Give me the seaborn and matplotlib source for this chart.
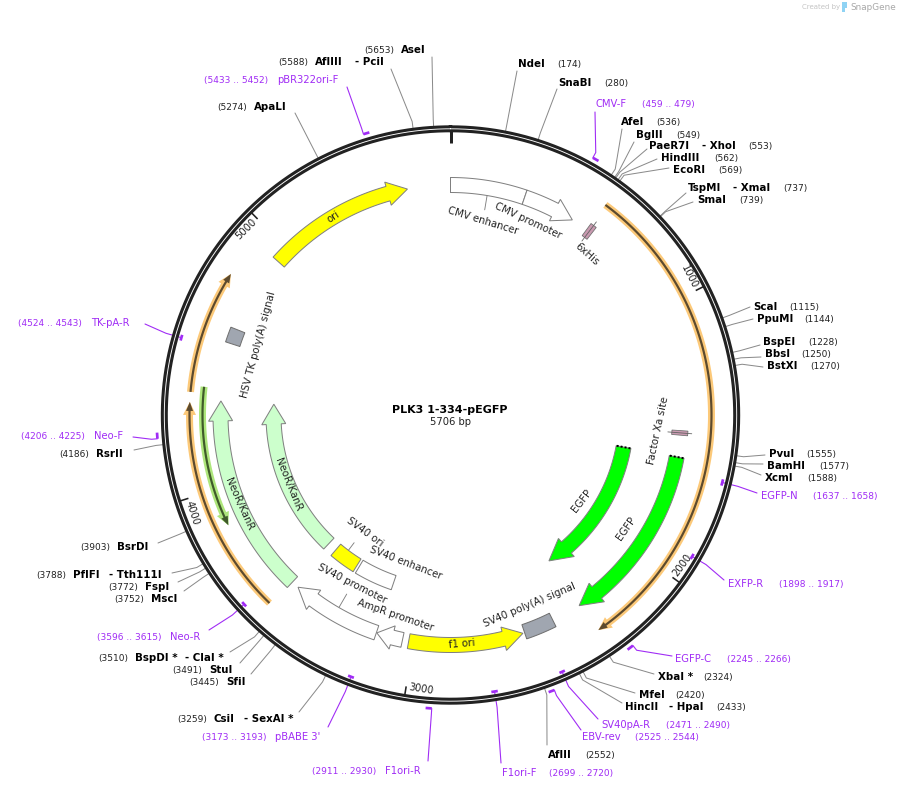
import numpy as np
import pandas as pd
import seaborn as sns
import matplotlib.pyplot as plt

total_bp = 5706
plasmid_name = "PLK3 1-334-pEGFP"

# restriction sites
enz_names = ["NdeI", "SnaBI", "AfeI", "BglII", "PaeR7I", "HindIII", "EcoRI", "TspMI", "SmaI", "ScaI",
             "PpuMI", "BspEI", "BbsI", "BstXI", "PvuI", "BamHI", "XcmI", "XbaI *", "MfeI", "HincII",
             "AflII", "CsiI", "SfiI", "StuI", "BspDI *", "MscI", "FspI", "PflFI", "BsrDI", "RsrII",
             "ApaLI", "AflIII", "AseI"]
enz_second = ["", "", "", "", "- XhoI", "", "", "- XmaI", "", "",
              "", "", "", "", "", "", "", "", "", "- HpaI",
              "", "- SexAI *", "", "", "- ClaI *", "", "", "- Tth111I", "", "",
              "", "- PciI", ""]
enz_bp = [174, 280, 536, 549, 553, 562, 569, 737, 739, 1115,
          1144, 1228, 1250, 1270, 1555, 1577, 1588, 2324, 2420, 2433,
          2552, 3259, 3445, 3491, 3510, 3752, 3772, 3788, 3903, 4186,
          5274, 5588, 5653]

# primers
primer_names = ["CMV-F", "EGFP-N", "EXFP-R", "EGFP-C", "SV40pA-R", "EBV-rev", "F1ori-F", "F1ori-R",
                "pBABE 3'", "Neo-R", "Neo-F", "TK-pA-R", "pBR322ori-F"]
primer_start = [459, 1637, 1898, 2245, 2471, 2525, 2699, 2911, 3173, 3596, 4206, 4524, 5433]
primer_end = [479, 1658, 1917, 2266, 2490, 2544, 2720, 2930, 3193, 3615, 4225, 4543, 5452]

# features
feat_names = ["CMV enhancer", "CMV promoter", "EGFP", "EGFP", "f1 ori", "AmpR promoter", "SV40 promoter",
              "SV40 enhancer", "SV40 ori", "NeoR/KanR", "NeoR/KanR", "ori"]
feat_start = [0, 298, 1593, 1593, 3019, 3044, 3151, 3150, 3358, 3541, 3541, 4940]
feat_end = [298, 507, 2314, 2314, 2562, 3149, 3511, 3345, 3493, 4335, 4335, 5535]
box_names = ["SV40 poly(A) signal", "HSV TK poly(A) signal"]
box_start = [2433, 4565]
box_end = [2555, 4625]
small_names = ["6xHis", "Factor Xa site"]
small_start = [575, 1488]
small_end = [600, 1506]
orf_start = [577, 3549, 4360, 4383]
orf_end = [2306, 4325, 4798, 3861]
tick_bp = [1000, 2000, 3000, 4000, 5000]

# layout, pixels
cx, cy = 450.5, 415.0
enz_x = [518, 558, 621, 636, 649, 661, 673, 688, 697, 753,
         757, 763, 765, 767, 769, 767, 765, 658, 639, 625,
         548, 214, 226, 209, 135, 151, 145, 73, 117, 96,
         254, 315, 401]
enz_y = [64, 83, 122, 135, 146, 158, 170, 188, 200, 307,
         319, 342, 354, 366, 454, 466, 478, 677, 695, 707,
         755, 719, 682, 670, 658, 599, 587, 575, 547, 454,
         107, 62, 50]
enz_num_x = [557, 604, 656, 676, 748, 714, 718, 783, 739, 789,
             804, 808, 801, 810, 806, 819, 807, 703, 675, 716,
             585, 177, 189, 172, 98, 114, 108, 36, 80, 59,
             217, 278, 364]
enz_second_x = [0, 0, 0, 0, 702, 0, 0, 733, 0, 0,
                0, 0, 0, 0, 0, 0, 0, 0, 0, 669,
                0, 244, 0, 0, 185, 0, 0, 109, 0, 0,
                0, 355, 0]
enz_ax = [517, 557, 622, 634, 647, 657, 669, 686, 693, 750,
          753, 760, 761, 763, 765, 763, 761, 654, 635, 622,
          547, 299, 251, 240, 230, 184, 178, 172, 158, 134,
          295, 391, 432]
enz_ay = [71, 89, 129, 142, 149, 159, 168, 193, 202, 307,
          319, 345, 357, 367, 455, 464, 475, 674, 693, 703,
          745, 712, 674, 663, 652, 591, 582, 573, 543, 450,
          113, 69, 57]

primer_x = [595, 761, 728, 675, 601, 582, 502, 385, 275, 170, 94, 91, 277]
primer_y = [104, 496, 584, 659, 725, 737, 773, 771, 737, 637, 436, 323, 80]
primer_num_x = [642, 813, 779, 727, 666, 635, 549, 312, 202, 97, 21, 18, 204]
primer_ax = [595, 757, 724, 672, 598, 581, 501, 428, 328, 209, 133, 145, 347]
primer_ay = [112, 493, 580, 656, 719, 730, 763, 761, 727, 630, 437, 324, 87]
primer_outside = [True, False, False, True, False, True, False, True, False, False, True, False, True]

feat_r = [230, 230, 230, 176, 230, 230, 230, 177, 177, 230, 177, 230]
feat_fill = ["white", "white", "#00ff00", "#00ff00", "#ffff00", "white", "white",
             "white", "#ffff00", "#ccffcc", "#ccffcc", "#ffff00"]
feat_head = [0, 20, 22, 22, 20, 16, 20, 0, 0, 20, 20, 20]
feat_label_x = [483, 528, 626, 582, 462, 395, 352, 406, 365, 239, 288, 333]
feat_label_y = [221, 221, 529, 501, 644, 615, 584, 563, 532, 504, 485, 217]
feat_label_rot = [-17, -25, 55, 52, 5, -19, -27, -21, -36, -66, -68, 33]
box_label_x = [530, 258]
box_label_y = [605, 345]
box_label_rot = [23, 75]
small_label_x = [587, 658]
small_label_y = [254, 431]
small_label_rot = [-42, 78]
small_w = [15, 16]
orf_r = [261, 261, 261, 248]
orf_halo = ["#fcc979", "#fcc979", "#fcc979", "#aee67c"]
orf_line = ["#5c4a2e", "#5c4a2e", "#5c4a2e", "#3f5a2a"]

DARK = "#222222"
PURPLE = "#a02cf5"
GREY = "#8a8a8a"
PX = 0.72  # one pixel in points at dpi 100


def pos(bp, r):
    a = np.asarray(bp, dtype=float) / total_bp * 2 * np.pi
    return cx + r * np.sin(a), cy - r * np.cos(a)


def arc(b0, b1, r, n=120):
    return pos(np.linspace(b0, b1, n), r)


def px_to_bp(length, r):
    return length / (2 * np.pi * r) * total_bp


def arrow_poly(b0, b1, r, w, head=0, head_w=0):
    sign = 1 if b1 > b0 else -1
    base = b1 - sign * px_to_bp(head, r)
    ox, oy = arc(b0, base, r + w / 2)
    ix, iy = arc(base, b0, r - w / 2)
    if head == 0:
        return np.r_[ox, ix], np.r_[oy, iy]
    bx1, by1 = pos(base, r + head_w / 2)
    tx, ty = pos(b1, r)
    bx2, by2 = pos(base, r - head_w / 2)
    return np.r_[ox, bx1, tx, bx2, ix], np.r_[oy, by1, ty, by2, iy]


sns.set_theme(style="white")
plt.rcParams["font.family"] = ["DejaVu Sans"]
fig = plt.figure(figsize=(8.99, 7.9), dpi=100)
ax = fig.add_axes([0, 0, 1, 1])

# leaders
rows = []
for i, b in enumerate(enz_bp):
    x0, y0 = pos(b, 289)
    x1, y1 = pos(b, 296)
    rows += [(i, x0, y0), (i, x1, y1), (i, enz_ax[i], enz_ay[i])]
enz_lines = pd.DataFrame(rows, columns=["id", "x", "y"])
sns.lineplot(data=enz_lines, x="x", y="y", units="id", estimator=None, sort=False,
             color=GREY, linewidth=1.0 * PX, ax=ax, zorder=1, legend=False)

rows = []
for i in range(len(primer_names)):
    if primer_outside[i]:
        x0, y0 = pos(primer_start[i], 294)
        x1, y1 = pos(primer_start[i], 300)
    else:
        mid = (primer_start[i] + primer_end[i]) / 2
        x0, y0 = pos(mid, 280)
        x1, y1 = pos(mid, 296)
    rows += [(i, x0, y0), (i, x1, y1), (i, primer_ax[i], primer_ay[i])]
primer_lines = pd.DataFrame(rows, columns=["id", "x", "y"])
sns.lineplot(data=primer_lines, x="x", y="y", units="id", estimator=None, sort=False,
             color=PURPLE, linewidth=1.1 * PX, ax=ax, zorder=1, legend=False)

# backbone ring
rx, ry = arc(0, total_bp, 286.2, 720)
ax.plot(rx, ry, color=DARK, linewidth=7 * PX, zorder=3)
ax.plot(rx, ry, color="white", linewidth=0.9 * PX, zorder=4)

# origin tick and numbered ticks
ox, oy = pos(np.array([0, 0]), np.array([284, 272]))
ax.plot(ox, oy, color=DARK, lw=3 * PX, solid_capstyle="butt", zorder=3)
for b in tick_bp:
    tx, ty = pos(np.array([b, b]), np.array([284, 275]))
    ax.plot(tx, ty, color=DARK, lw=1.6 * PX, solid_capstyle="butt", zorder=3)
    lx, ly = pos(b - 50, 276)
    rot = -(b / total_bp * 360)
    while rot < -90:
        rot += 180
    ax.text(lx, ly, str(b), rotation=rot, rotation_mode="anchor", ha="center", va="center",
            fontsize=7.2, color=DARK)

# primers ticks
for i in range(len(primer_names)):
    r = 294 if primer_outside[i] else 280
    px, py = arc(primer_start[i], primer_end[i], r, 8)
    ax.plot(px, py, color=PURPLE, lw=2.7 * PX, solid_capstyle="butt", zorder=5)

# translated frames
for b0, b1, r, halo, line in zip(orf_start, orf_end, orf_r, orf_halo, orf_line):
    hx, hy = arrow_poly(b0, b1, r, 7, 13, 13)
    ax.fill(hx, hy, color=halo, lw=0, zorder=2)
    hx, hy = arrow_poly(b0, b1, r, 2.2, 9, 7)
    ax.fill(hx, hy, color=line, lw=0, zorder=2.5)

# features
for i, name in enumerate(feat_names):
    hw = 24 if feat_head[i] else 0
    fx, fy = arrow_poly(feat_start[i], feat_end[i], feat_r[i], 15, feat_head[i], hw)
    ax.fill(fx, fy, facecolor=feat_fill[i], edgecolor="#808080", lw=1.0 * PX, zorder=2)
    ax.text(feat_label_x[i], feat_label_y[i], name, rotation=feat_label_rot[i], rotation_mode="anchor",
            ha="center", va="center", fontsize=7.3, color=DARK, zorder=6)

# truncated ends on EGFP
for i in (2, 3):
    dx, dy = pos(np.array([feat_start[i], feat_start[i]]), np.array([feat_r[i] - 7, feat_r[i] + 7]))
    ax.plot(dx, dy, color="black", lw=2 * PX, ls=(0, (1, 1)), zorder=5)

for i, name in enumerate(box_names):
    fx, fy = arrow_poly(box_start[i], box_end[i], 229, 15)
    ax.fill(fx, fy, facecolor="#a0a6b0", edgecolor="#707070", lw=1.0 * PX, zorder=2)
    ax.text(box_label_x[i], box_label_y[i], name, rotation=box_label_rot[i], rotation_mode="anchor",
            ha="center", va="center", fontsize=7.3, color=DARK)

for i, name in enumerate(small_names):
    fx, fy = arrow_poly(small_start[i], small_end[i], 230, small_w[i])
    ax.fill(fx, fy, facecolor="#c99ab0", edgecolor="#707070", lw=0.8 * PX, zorder=2)
    mid = (small_start[i] + small_end[i]) / 2
    sx, sy = pos(np.array([mid, mid]), np.array([218, 242]))
    ax.plot(sx, sy, color="#606060", lw=0.8 * PX, zorder=2.5)
    ax.text(small_label_x[i], small_label_y[i], name, rotation=small_label_rot[i], rotation_mode="anchor",
            ha="center", va="center", fontsize=7.3, color=DARK)

# short feature leaders
for b, r0, r1 in [(150, 223, 208), (3440, 170, 160), (3330, 223, 207)]:
    lx, ly = pos(np.array([b, b]), np.array([r0, r1]))
    ax.plot(lx, ly, color="#808080", lw=0.9 * PX, zorder=1)

# enzyme labels
for i, name in enumerate(enz_names):
    ax.text(enz_x[i], enz_y[i], name, ha="left", va="center", fontsize=7.4, fontweight="bold", color="black")
    if enz_second[i]:
        ax.text(enz_second_x[i], enz_y[i], enz_second[i], ha="left", va="center", fontsize=7.4,
                fontweight="bold", color="black")
    ax.text(enz_num_x[i], enz_y[i] + 0.5, f"({enz_bp[i]})", ha="left", va="center", fontsize=6.5, color=DARK)

# primer labels
for i, name in enumerate(primer_names):
    ax.text(primer_x[i], primer_y[i], name, ha="left", va="center", fontsize=7.2, color=PURPLE)
    ax.text(primer_num_x[i], primer_y[i] + 0.5, f"({primer_start[i]} .. {primer_end[i]})", ha="left", va="center",
            fontsize=6.5, color=PURPLE)

# title in the middle
ax.text(450, 410, plasmid_name, ha="center", va="center", fontsize=8, fontweight="bold", color="black")
ax.text(450, 422, f"{total_bp} bp", ha="center", va="center", fontsize=7.2, color=DARK)

# snapgene mark
ax.text(802, 7, "Created by", ha="left", va="center", fontsize=5, color="#c4c4c4")
ax.fill([842, 847, 847, 844.5, 844.5, 842], [2, 2, 8, 8, 12, 12], color="#8fd3f4", lw=0)
ax.text(850, 7, "SnapGene", ha="left", va="center", fontsize=6.4, color="#a8a8a8")

ax.set_xlim(0, 899)
ax.set_ylim(790, 0)
ax.set_axis_off()
fig.savefig("out.png", dpi=100)
